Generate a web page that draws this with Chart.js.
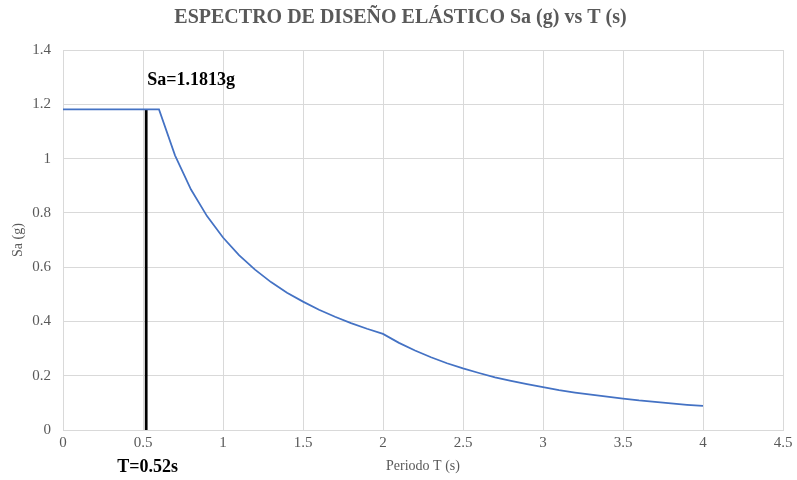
<!DOCTYPE html>
<html>
<head>
<meta charset="utf-8">
<script src="https://cdn.jsdelivr.net/npm/chart.js@4.4.1/dist/chart.umd.min.js"></script>
<style>
  html, body { margin: 0; padding: 0; background: #ffffff; }
  #wrap { width: 797px; height: 480px; }
</style>
</head>
<body>
<div id="wrap"><canvas id="spectrum"></canvas></div>
<script>
// Periodo T (s) y aceleración espectral Sa (g)
const periods = [0, 0.6, 0.7, 0.8, 0.9, 1.0, 1.1, 1.2, 1.3, 1.4, 1.5, 1.6, 1.7, 1.8, 1.9, 2.0,
  2.1, 2.2, 2.3, 2.4, 2.5, 2.6, 2.7, 2.8, 2.9, 3.0, 3.1, 3.2, 3.3, 3.4, 3.5, 3.6, 3.7, 3.8, 3.9, 4.0];
const saValues = [1.1813, 1.1813, 1.012, 0.886, 0.788, 0.709, 0.644, 0.591, 0.545, 0.506, 0.473, 0.443,
  0.417, 0.394, 0.373, 0.354, 0.321, 0.293, 0.268, 0.246, 0.227, 0.210, 0.194, 0.181, 0.169, 0.158,
  0.147, 0.138, 0.130, 0.123, 0.116, 0.109, 0.104, 0.098, 0.093, 0.089];

// Periodo fundamental marcado
const markT = [0.52, 0.52];
const markSa = [0, 1.1813];
const markLabels = ['Sa=1.1813g', 'T=0.52s'];

const chartTitle = 'ESPECTRO DE DISEÑO ELÁSTICO Sa (g) vs T (s)';

const SERIF = '"Liberation Serif", "Times New Roman", serif';
const GRAY = '#595959';
const GRID = '#d9d9d9';

// Excel style tick text: 1 instead of 1.0
const plainTick = (v) => String(parseFloat(Number(v).toFixed(2)));

// Title centred on the whole canvas, plus the Sa / T labels by the marker line
const markerText = {
  id: 'markerText',
  afterDatasetsDraw(chart) {
    const { ctx, scales } = chart;
    const x = scales.x.getPixelForValue(markT[0]);
    const yTop = scales.y.getPixelForValue(markSa[1]);
    ctx.save();
    ctx.textBaseline = 'middle';

    ctx.fillStyle = GRAY;
    ctx.font = 'bold 20px ' + SERIF;
    ctx.textAlign = 'center';
    ctx.fillText(chartTitle, chart.width / 2 + 2, 18);

    ctx.fillStyle = '#000000';
    ctx.font = 'bold 18px ' + SERIF;
    ctx.textAlign = 'left';
    ctx.fillText(markLabels[0], x + 1, yTop - 29);
    ctx.fillText(markLabels[1], x - 29, chart.chartArea.bottom + 37);
    ctx.restore();
  }
};

new Chart(document.getElementById('spectrum'), {
  type: 'scatter',
  data: {
    datasets: [
      {
        label: 'Sa',
        data: periods.map((t, i) => ({ x: t, y: saValues[i] })),
        showLine: true,
        borderColor: '#4472C4',
        borderWidth: 1.75,
        pointRadius: 0,
        tension: 0
      },
      {
        label: 'T',
        data: markT.map((t, i) => ({ x: t, y: markSa[i] })),
        showLine: true,
        borderColor: '#000000',
        borderWidth: 2.75,
        pointRadius: 0
      }
    ]
  },
  options: {
    responsive: true,
    maintainAspectRatio: false,
    animation: false,
    layout: { padding: { left: 0, right: 14, top: 50, bottom: 0 } },
    plugins: {
      legend: { display: false },
      tooltip: { enabled: false },
      title: { display: false }
    },
    scales: {
      x: {
        type: 'linear',
        min: 0,
        max: 4.5,
        ticks: {
          stepSize: 0.5,
          color: GRAY,
          font: { family: SERIF, size: 15 },
          padding: 4,
          maxRotation: 0,
          callback: plainTick
        },
        grid: { color: GRID, lineWidth: 1, drawTicks: false },
        border: { color: GRID },
        title: {
          display: true,
          text: 'Periodo T (s)',
          color: GRAY,
          font: { family: SERIF, size: 14 },
          padding: { top: 0, bottom: 5 }
        },
        afterFit(scale) { scale.height = 50; }
      },
      y: {
        min: 0,
        max: 1.4,
        ticks: {
          stepSize: 0.2,
          color: GRAY,
          font: { family: SERIF, size: 15 },
          padding: 12,
          callback: plainTick
        },
        grid: { color: GRID, lineWidth: 1, drawTicks: false },
        border: { display: false },
        title: {
          display: true,
          text: 'Sa (g)',
          color: GRAY,
          font: { family: SERIF, size: 14 },
          padding: { top: 10, bottom: 0 }
        },
        afterFit(scale) { scale.width = 63; }
      }
    }
  },
  plugins: [markerText]
});
</script>
</body>
</html>
